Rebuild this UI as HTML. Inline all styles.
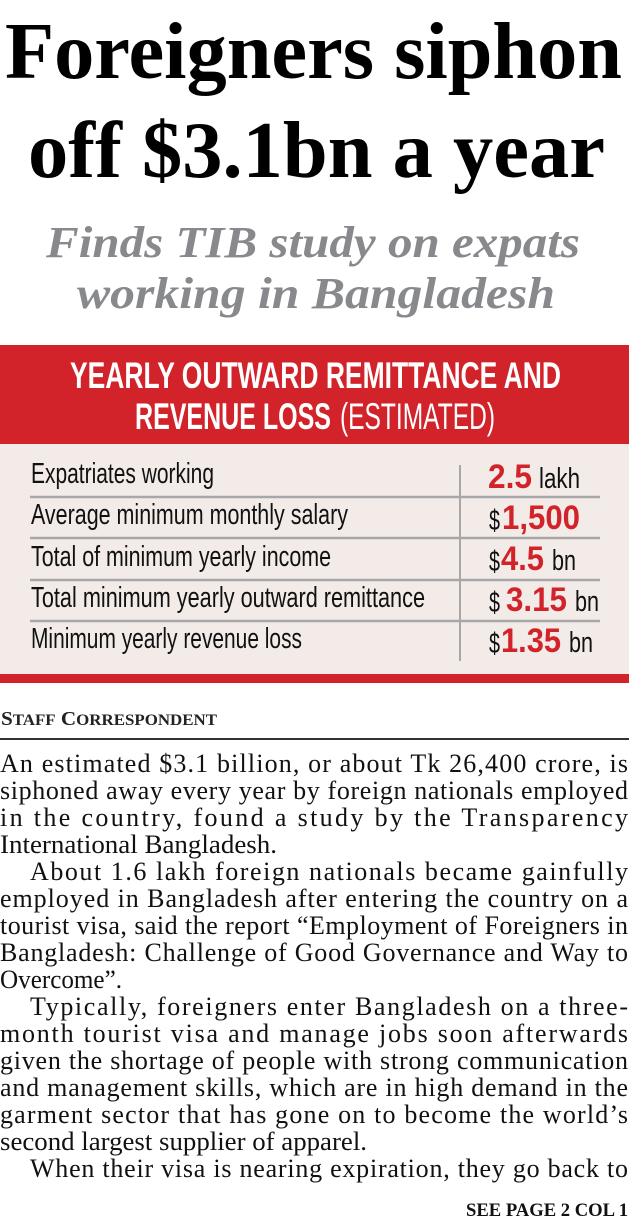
<!DOCTYPE html>
<html><head><meta charset="utf-8"><style>
html,body{margin:0;padding:0;background:#fff;}
svg{display:block;}
.t{font-family:"Liberation Serif",serif;}
.n{font-family:"Liberation Sans Narrow","Liberation Sans",sans-serif;}
</style></head><body>
<svg width="629" height="1227" viewBox="0 0 629 1227" xmlns="http://www.w3.org/2000/svg">
<text class="t" x="5" y="78" font-size="80" font-weight="bold" textLength="617" lengthAdjust="spacingAndGlyphs" fill="#000">Foreigners siphon</text>
<text class="t" x="28" y="177" font-size="80" font-weight="bold" textLength="577" lengthAdjust="spacingAndGlyphs" fill="#000">off $3.1bn a year</text>
<text class="t" x="46" y="257" font-size="44" font-style="italic" font-weight="bold" textLength="534" lengthAdjust="spacingAndGlyphs" fill="#88898d">Finds TIB study on expats</text>
<text class="t" x="77" y="308" font-size="44" font-style="italic" font-weight="bold" textLength="478" lengthAdjust="spacingAndGlyphs" fill="#88898d">working in Bangladesh</text>

<rect x="0" y="345" width="629" height="99" fill="#d2232a"/>
<rect x="0" y="444" width="629" height="230" fill="#f2ebe8"/>
<rect x="0" y="674" width="629" height="9" fill="#d2232a"/>
<text class="n" x="70" y="388" font-size="37" font-weight="bold" fill="#fff" textLength="491" lengthAdjust="spacingAndGlyphs">YEARLY OUTWARD REMITTANCE AND</text>
<text class="n" x="135" y="429" font-size="37" font-weight="bold" fill="#fff" textLength="196" lengthAdjust="spacingAndGlyphs">REVENUE LOSS</text>
<text class="n" x="340" y="429" font-size="37" fill="#fff" textLength="155" lengthAdjust="spacingAndGlyphs">(ESTIMATED)</text>

<g stroke="#a7a7a9" stroke-width="2.5">
<line x1="30" y1="497" x2="600" y2="497"/>
<line x1="30" y1="538" x2="600" y2="538"/>
<line x1="30" y1="580" x2="600" y2="580"/>
<line x1="30" y1="621" x2="600" y2="621"/>
<line x1="460" y1="465" x2="460" y2="661" stroke-width="2"/>
</g>
<g class="n" font-size="29" fill="#111">
<text x="31" y="483" textLength="183" lengthAdjust="spacingAndGlyphs">Expatriates working</text>
<text x="31" y="524" textLength="317" lengthAdjust="spacingAndGlyphs">Average minimum monthly salary</text>
<text x="31" y="566" textLength="300" lengthAdjust="spacingAndGlyphs">Total of minimum yearly income</text>
<text x="31" y="607" textLength="394" lengthAdjust="spacingAndGlyphs">Total minimum yearly outward remittance</text>
<text x="31" y="648" textLength="271" lengthAdjust="spacingAndGlyphs">Minimum yearly revenue loss</text>
</g>
<g class="n" font-size="29" fill="#111">
<text x="488" y="488" font-size="34" font-weight="bold" fill="#d2232a" textLength="44" lengthAdjust="spacingAndGlyphs">2.5</text>
<text x="539" y="488" textLength="41" lengthAdjust="spacingAndGlyphs">lakh</text>
<text x="489" y="530" textLength="11" lengthAdjust="spacingAndGlyphs">$</text>
<text x="502" y="529" font-size="34" font-weight="bold" fill="#d2232a" textLength="78" lengthAdjust="spacingAndGlyphs">1,500</text>
<text x="489" y="571" textLength="11" lengthAdjust="spacingAndGlyphs">$</text>
<text x="501" y="570" font-size="34" font-weight="bold" fill="#d2232a" textLength="43" lengthAdjust="spacingAndGlyphs">4.5</text>
<text x="552" y="570" textLength="24" lengthAdjust="spacingAndGlyphs">bn</text>
<text x="489" y="612" textLength="11" lengthAdjust="spacingAndGlyphs">$</text>
<text x="506" y="611" font-size="34" font-weight="bold" fill="#d2232a" textLength="61" lengthAdjust="spacingAndGlyphs">3.15</text>
<text x="575" y="611" textLength="24" lengthAdjust="spacingAndGlyphs">bn</text>
<text x="489" y="653" textLength="11" lengthAdjust="spacingAndGlyphs">$</text>
<text x="501" y="652" font-size="34" font-weight="bold" fill="#d2232a" textLength="60" lengthAdjust="spacingAndGlyphs">1.35</text>
<text x="569" y="652" textLength="24" lengthAdjust="spacingAndGlyphs">bn</text>
</g>

<text class="t" x="1" y="725" font-size="20" font-weight="bold" fill="#222" textLength="216" lengthAdjust="spacingAndGlyphs">S<tspan font-size="16">TAFF</tspan> C<tspan font-size="16">ORRESPONDENT</tspan></text>
<rect x="0" y="738" width="629" height="2" fill="#333"/>

<g class="t" font-size="26" fill="#111">
<text x="0" y="772" textLength="628" lengthAdjust="spacing">An estimated $3.1 billion, or about Tk 26,400 crore, is</text>
<text x="0" y="799" textLength="628" lengthAdjust="spacing">siphoned away every year by foreign nationals employed</text>
<text x="0" y="826" textLength="628" lengthAdjust="spacing">in the country, found a study by the Transparency</text>
<text x="0" y="853" textLength="277" lengthAdjust="spacingAndGlyphs">International Bangladesh.</text>
<text x="30" y="880" textLength="598" lengthAdjust="spacing">About 1.6 lakh foreign nationals became gainfully</text>
<text x="0" y="907" textLength="628" lengthAdjust="spacing">employed in Bangladesh after entering the country on a</text>
<text x="0" y="934" textLength="628" lengthAdjust="spacing">tourist visa, said the report “Employment of Foreigners in</text>
<text x="0" y="961" textLength="628" lengthAdjust="spacing">Bangladesh: Challenge of Good Governance and Way to</text>
<text x="0" y="988" textLength="122" lengthAdjust="spacingAndGlyphs">Overcome”.</text>
<text x="30" y="1015" textLength="598" lengthAdjust="spacing">Typically, foreigners enter Bangladesh on a three-</text>
<text x="0" y="1042" textLength="628" lengthAdjust="spacing">month tourist visa and manage jobs soon afterwards</text>
<text x="0" y="1069" textLength="628" lengthAdjust="spacing">given the shortage of people with strong communication</text>
<text x="0" y="1096" textLength="628" lengthAdjust="spacing">and management skills, which are in high demand in the</text>
<text x="0" y="1123" textLength="628" lengthAdjust="spacing">garment sector that has gone on to become the world’s</text>
<text x="0" y="1150" textLength="367" lengthAdjust="spacingAndGlyphs">second largest supplier of apparel.</text>
<text x="30" y="1177" textLength="598" lengthAdjust="spacing">When their visa is nearing expiration, they go back to</text>
</g>
<text class="t" x="466" y="1216" font-size="19" font-weight="bold" fill="#111" textLength="162" lengthAdjust="spacingAndGlyphs">SEE PAGE 2 COL 1</text>
</svg>
</body></html>
